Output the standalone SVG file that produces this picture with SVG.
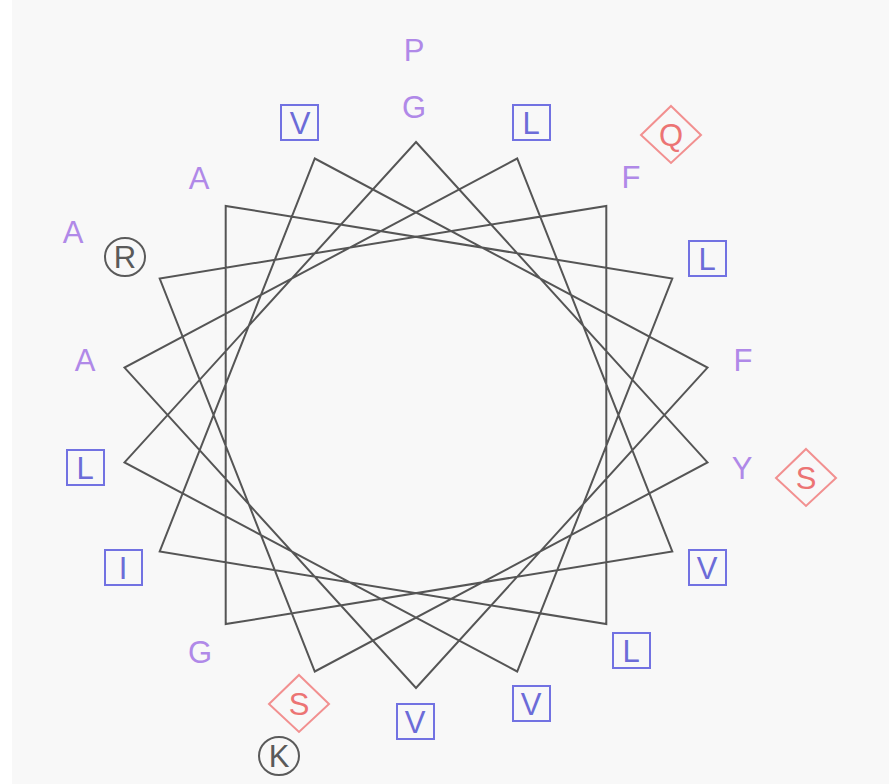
<svg xmlns="http://www.w3.org/2000/svg" width="889" height="784" viewBox="0 0 889 784">
<style>
text{font-family:"Liberation Sans",Arial,sans-serif;font-size:31px;text-anchor:middle}
.p{fill:#b089e8}
.b rect{fill:none;stroke:#7272e2;stroke-width:2}
.b text{fill:#6c6cd8}
.r path{fill:none;stroke:#f29090;stroke-width:2}
.r text{fill:#ec7474}
.k ellipse{fill:none;stroke:#5a5a5a;stroke-width:2}
.k text{fill:#5a5a5a}
#wheel polygon{fill:none;stroke:#555;stroke-width:2;stroke-linejoin:miter}
</style>
<rect width="889" height="784" fill="#f8f8f8"/>
<rect width="12" height="784" fill="#ffffff"/>
<g id="wheel">
<polygon points="416,142 707.5,462.4 314.8,671.5 159.7,278.5 606.3,205.9 606.3,624.1 159.7,551.5 314.8,158.5 707.5,367.6 416,688 124.5,367.6 517.2,158.5 672.3,551.5 225.7,624.1 225.7,205.9 672.3,278.5 517.2,671.5 124.5,462.4"/>
</g>
<g id="res-P" class="p"><text x="414" y="61">P</text></g>
<g id="res-G1" class="p"><text x="414" y="118">G</text></g>
<g id="res-L1" class="b"><rect x="513" y="105" width="37" height="35"/><text x="531" y="134">L</text></g>
<g id="res-V1" class="b"><rect x="281" y="105" width="37" height="35"/><text x="300" y="134">V</text></g>
<g id="res-F1" class="p"><text x="631" y="188">F</text></g>
<g id="res-Q" class="r"><path d="M671,106 L701,135 L671,163 L641,135 Z"/><text x="671" y="146">Q</text></g>
<g id="res-A1" class="p"><text x="199" y="189">A</text></g>
<g id="res-L2" class="b"><rect x="689" y="241" width="37" height="35"/><text x="707" y="270">L</text></g>
<g id="res-R" class="k"><ellipse cx="125" cy="257" rx="20" ry="19"/><text x="125" y="268">R</text></g>
<g id="res-A2" class="p"><text x="73" y="243">A</text></g>
<g id="res-F2" class="p"><text x="743" y="371">F</text></g>
<g id="res-A3" class="p"><text x="85" y="371">A</text></g>
<g id="res-Y" class="p"><text x="742" y="479">Y</text></g>
<g id="res-S1" class="r"><path d="M806,449 L836,478 L806,506 L776,478 Z"/><text x="806" y="489">S</text></g>
<g id="res-L3" class="b"><rect x="67" y="450" width="37" height="35"/><text x="85" y="479">L</text></g>
<g id="res-V2" class="b"><rect x="689" y="550" width="37" height="35"/><text x="707" y="579">V</text></g>
<g id="res-I" class="b"><rect x="105" y="550" width="37" height="35"/><text x="123" y="579">I</text></g>
<g id="res-L4" class="b"><rect x="613" y="633" width="37" height="35"/><text x="631" y="662">L</text></g>
<g id="res-G2" class="p"><text x="200" y="663">G</text></g>
<g id="res-V3" class="b"><rect x="513" y="686" width="37" height="35"/><text x="531" y="715">V</text></g>
<g id="res-S2" class="r"><path d="M299,675 L329,704 L299,732 L269,704 Z"/><text x="299" y="715">S</text></g>
<g id="res-K" class="k"><ellipse cx="279" cy="756" rx="20" ry="19"/><text x="279" y="767">K</text></g>
<g id="res-V4" class="b"><rect x="397" y="704" width="37" height="35"/><text x="415" y="733">V</text></g>
</svg>
